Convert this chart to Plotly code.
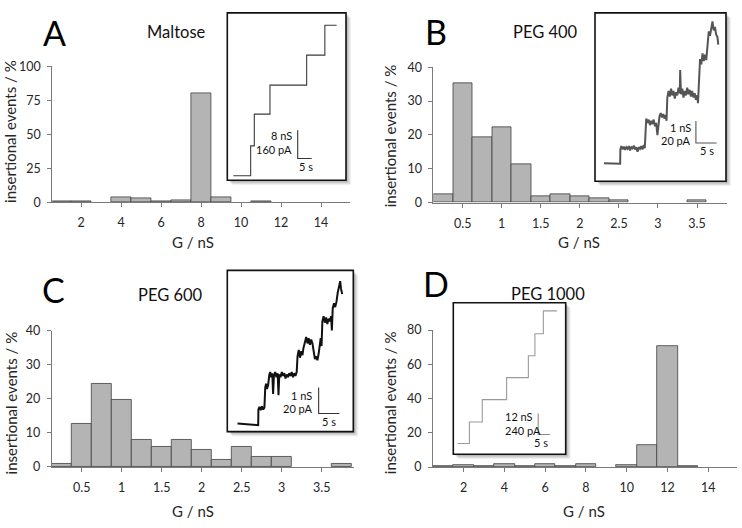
import plotly.graph_objects as go

W, H = 742, 528
FONT = "Lato, 'Open Sans', sans-serif"

# ---------------- histogram data ----------------
a_centers = [1, 2, 3, 4, 5, 6, 7, 8, 9, 10, 11, 12, 13, 14]
a_values = [0.6, 0.6, None, 3.8, 3.3, 0.8, 1.8, 80.3, 3.7, None, 0.4, None, None, None]

b_centers = [0.25, 0.5, 0.75, 1.0, 1.25, 1.5, 1.75, 2.0, 2.25, 2.5, 2.75, 3.0, 3.25, 3.5, 3.75]
b_values = [2.5, 35.3, 19.3, 22.4, 11.2, 1.9, 2.6, 1.9, 1.3, 0.6, None, None, None, 0.6, None]

c_centers = [0.25, 0.5, 0.75, 1.0, 1.25, 1.5, 1.75, 2.0, 2.25, 2.5, 2.75, 3.0, 3.25, 3.5, 3.75]
c_values = [1.0, 12.8, 24.5, 19.7, 8.0, 6.0, 8.0, 5.0, 2.0, 6.0, 3.0, 3.0, None, None, 1.0]

d_centers = [1, 2, 3, 4, 5, 6, 7, 8, 9, 10, 11, 12, 13, 14]
d_values = [0.4, 1.4, 0.4, 2.0, 0.4, 2.0, 0.4, 2.0, None, 1.4, 12.8, 70.8, 0.5, None]

ab_ticks = [2, 4, 6, 8, 10, 12, 14]
peg_ticks = [0.5, 1, 1.5, 2, 2.5, 3, 3.5]
peg_ticklabels = ["0.5", "1", "1.5", "2", "2.5", "3", "3.5"]
a_yticks = [0, 25, 50, 75, 100]
bc_yticks = [0, 10, 20, 30, 40]
d_yticks = [0, 20, 40, 60, 80]

# ---------------- inset traces (time s, current pA) ----------------
a_trace_t = [0, 6.2, 7.5, 13.1, 26.2, 32.7, 36.9]
a_trace_i = [0, 170, 350, 515, 685, 855, 855]

b_trace_t = [0, 3.9, 3.95, 4.2, 4.5, 4.8, 5.1, 5.4, 5.7, 6.0, 6.3, 6.6, 6.9, 7.2, 7.5, 7.8, 8.1, 8.4, 8.7, 9.0, 9.3, 9.6, 9.85,
             10.0, 10.2, 10.5, 10.8, 11.1, 11.4, 11.7, 12.0, 12.3, 12.6, 12.9, 13.1,
             13.4, 13.7, 14.0, 14.3, 14.6, 14.9, 15.1,
             15.3, 15.6, 15.9, 16.2, 16.5, 16.8, 17.1, 17.4, 17.7, 18.0, 18.3, 18.4, 18.6, 18.9, 19.2, 19.5, 19.8,
             20.1, 20.4, 20.7, 21.0, 21.3, 21.6, 21.9, 22.2, 22.5, 22.7,
             23.0, 23.2, 23.5, 23.8, 24.1, 24.4, 24.7,
             25.0, 25.3, 25.6, 25.9, 26.2, 26.5, 26.8, 27.1, 27.4, 27.6]
b_trace_i = [0.5, 0, 13, 16, 13, 15.5, 12.5, 15, 13.5, 16, 12, 15, 14, 16.5, 13, 15, 11, 15, 13.5, 16, 13, 17, 14,
             36, 41, 37, 40, 35, 39, 36, 40, 34, 37, 26, 33,
             43, 46, 42, 45, 41, 44, 39,
             60, 66, 61, 68, 62, 66, 59, 65, 62, 69, 64, 85, 63, 68, 60, 66, 62,
             69, 63, 67, 61, 66, 60, 64, 58, 62, 55,
             82, 95, 90, 100, 93, 99, 94,
             112, 120, 116, 124, 129, 121, 124, 117, 115, 108]

c_trace_t = [0, 5.0, 5.05, 5.3, 5.6, 5.9, 6.2, 6.5,
             6.7, 6.9, 7.1, 7.4,
             7.7, 7.9, 8.1, 8.4, 8.6, 8.8, 9.1, 9.4, 9.7, 9.9, 10.1, 10.4, 10.7, 11.0, 11.3, 11.6, 11.9, 12.2, 12.5,
             12.8, 13.1, 13.4, 13.7, 14.0, 14.3,
             14.5, 14.8, 15.1, 15.4, 15.7, 15.9,
             16.3, 16.6, 16.9, 17.2, 17.5, 17.8, 18.1,
             18.4, 18.7, 19.0, 19.3, 19.6,
             19.9, 20.1, 20.3,
             20.5, 20.8, 21.1, 21.4, 21.7, 22.0, 22.3, 22.6, 22.8,
             23.0, 23.3, 23.6, 23.9,
             24.2, 24.5, 24.8, 25.0, 25.3]
c_trace_i = [0.3, -1.0, 11, 13, 10.5, 13.5, 11, 12.5,
             28, 31, 27, 30,
             38, 40, 36, 39, 23, 37, 40, 36, 39, 22, 38, 36, 40, 37, 39, 35, 38, 36, 39,
             37, 40, 36, 39, 37, 40,
             52, 57, 51, 56, 53, 58,
             63, 67, 62, 66, 61, 65, 62,
             55, 50, 52, 49, 54,
             63, 66, 60,
             79, 83, 78, 82, 77, 81, 79, 83, 72,
             89, 93, 90, 94,
             101, 106, 110, 104, 100]

d_trace_t = [0, 5.0, 10.5, 20.9, 30.2, 33.0, 36.6, 42.4]
d_trace_i = [0, 245, 500, 750, 1000, 1250, 1510, 1510]

# scale bars: (corner time, corner current, current bar, time bar, labels)
a_bar = dict(t0=23.0, i0=98, di=160, dt=5, l1="8 nS", l2="160 pA", l3="5 s")
b_bar = dict(t0=22.2, i0=18.8, di=20, dt=5, l1="1 nS", l2="20 pA", l3="5 s")
c_bar = dict(t0=19.6, i0=8.0, di=20, dt=5, l1="1 nS", l2="20 pA", l3="5 s")
d_bar = dict(t0=34.4, i0=103, di=240, dt=5, l1="12 nS", l2="240 pA", l3="5 s")


def px(x):
    return x / W


def py(y):
    return 1 - y / H


fig = go.Figure()

BAR_FILL = "#b4b4b4"
BAR_LINE = "#404040"

for cx, vals, w, xa, ya in [
    (a_centers, a_values, 1.0, "x", "y"),
    (b_centers, b_values, 0.25, "x2", "y2"),
    (c_centers, c_values, 0.25, "x3", "y3"),
    (d_centers, d_values, 1.0, "x4", "y4"),
]:
    fig.add_trace(go.Bar(x=cx, y=vals, width=w, xaxis=xa, yaxis=ya,
                         marker=dict(color=BAR_FILL, line=dict(color=BAR_LINE, width=0.8)),
                         showlegend=False, hoverinfo="skip"))

# inset traces
fig.add_trace(go.Scatter(x=a_trace_t, y=a_trace_i, mode="lines", line=dict(color="#3a3a3a", width=1.1, shape="hv"),
                         xaxis="x5", yaxis="y5", showlegend=False, hoverinfo="skip"))
fig.add_trace(go.Scatter(x=b_trace_t, y=b_trace_i, mode="lines", line=dict(color="#555555", width=2.0),
                         xaxis="x6", yaxis="y6", showlegend=False, hoverinfo="skip"))
fig.add_trace(go.Scatter(x=c_trace_t, y=c_trace_i, mode="lines", line=dict(color="#111111", width=2.0),
                         xaxis="x7", yaxis="y7", showlegend=False, hoverinfo="skip"))
fig.add_trace(go.Scatter(x=d_trace_t, y=d_trace_i, mode="lines", line=dict(color="#9a9a9a", width=1.1, shape="hv"),
                         xaxis="x8", yaxis="y8", showlegend=False, hoverinfo="skip"))

# scale bars
for bar, xa, ya, col in [(a_bar, "x5", "y5", "#333333"), (b_bar, "x6", "y6", "#555555"),
                         (c_bar, "x7", "y7", "#333333"), (d_bar, "x8", "y8", "#8a8a8a")]:
    fig.add_trace(go.Scatter(x=[bar["t0"], bar["t0"], bar["t0"] + bar["dt"]],
                             y=[bar["i0"] + bar["di"], bar["i0"], bar["i0"]],
                             mode="lines", line=dict(color=col, width=1.1),
                             xaxis=xa, yaxis=ya, showlegend=False, hoverinfo="skip"))

AX_COL = "#7a7a7a"
TICK_FONT = dict(family=FONT, size=12.5, color="#262626")


def hist_x(domain, rng, tickvals, ticktext=None):
    d = dict(domain=domain, range=rng, tickvals=tickvals, showline=True, linecolor=AX_COL, linewidth=1,
             ticks="outside", ticklen=4, tickcolor=AX_COL, showgrid=False, zeroline=False,
             tickfont=TICK_FONT, ticklabelstandoff=5, fixedrange=True)
    if ticktext:
        d["ticktext"] = ticktext
    return d


def hist_y(domain, rng, tickvals):
    return dict(domain=domain, range=rng, tickvals=tickvals, showline=True, linecolor=AX_COL, linewidth=1,
                ticks="outside", ticklen=4, tickcolor=AX_COL, showgrid=False, zeroline=False,
                tickfont=TICK_FONT, ticklabelstandoff=4, fixedrange=True)


def inset_axes(L, R, T, B, ox, oy, sx, sy):
    xa = dict(domain=[px(L), px(R)], range=[(L - ox) / sx, (R - ox) / sx], visible=False, fixedrange=True)
    ya = dict(domain=[py(B), py(T)], range=[(oy - B) / sy, (oy - T) / sy], visible=False, fixedrange=True)
    return xa, ya


insets = {
    "A": (227.3, 346.0, 5.0, 177.3, 233.3, 172.7, 2.8, 29 / 160),
    "B": (595.0, 726.0, 5.0, 178.3, 604.0, 160.3, 4.14, 22.7 / 20),
    "C": (227.3, 353.3, 270.0, 436.0, 237.5, 428.0, 4.14, 26.7 / 20),
    "D": (453.3, 565.7, 303.3, 459.3, 457.7, 448.3, 2.34, 21.7 / 240),
}

x5, y5 = inset_axes(*insets["A"])
x6, y6 = inset_axes(*insets["B"])
x7, y7 = inset_axes(*insets["C"])
x8, y8 = inset_axes(*insets["D"])
x5["anchor"], y5["anchor"] = "y5", "x5"
x6["anchor"], y6["anchor"] = "y6", "x6"
x7["anchor"], y7["anchor"] = "y7", "x7"
x8["anchor"], y8["anchor"] = "y8", "x8"

shapes = []
for key, (L, R, T, B, *_rest) in insets.items():
    for off, alpha in [(5.0, 0.06), (3.8, 0.08), (2.6, 0.10), (1.4, 0.12)]:
        shapes.append(dict(type="rect", xref="paper", yref="paper", layer="below",
                           x0=px(L + off), x1=px(R + off), y0=py(B + off), y1=py(T + off),
                           fillcolor=f"rgba(0,0,0,{alpha})", line=dict(width=0)))
    shapes.append(dict(type="rect", xref="paper", yref="paper", layer="below",
                       x0=px(L), x1=px(R), y0=py(B), y1=py(T),
                       fillcolor="white", line=dict(color="#111111", width=1.6)))

annotations = []


def ann(text, x, y, size, xanchor="center", angle=0, color="#111111"):
    annotations.append(dict(text=text, x=px(x), y=py(y), xref="paper", yref="paper", showarrow=False,
                            xanchor=xanchor, yanchor="middle", textangle=angle,
                            font=dict(family=FONT, size=size, color=color)))


# panel letters
ann("A", 54, 25, 34, color="#000000")
ann("B", 436, 24, 34, color="#000000")
ann("C", 53.5, 290, 34, color="#000000")
ann("D", 436, 283.5, 34, color="#000000")
# panel titles
ann("Maltose", 176.7, 25, 16.5)
ann("PEG 400", 545.7, 25, 16.5)
ann("PEG 600", 170.3, 295, 16.5)
ann("PEG 1000", 547.7, 294, 16.5)
# axis titles
YT = "insertional events / %"
ann(YT, 10.5, 127, 15, angle=-90, color="#262626")
ann(YT, 390, 131, 15, angle=-90, color="#262626")
ann(YT, 11, 407, 15, angle=-90, color="#262626")
ann(YT, 390, 405.7, 15, angle=-90, color="#262626")
ann("G / nS", 193, 240.7, 15, color="#262626")
ann("G / nS", 578.5, 240.7, 15, color="#262626")
ann("G / nS", 193, 517.3, 15, color="#262626")
ann("G / nS", 583.5, 518, 15, color="#262626")
# scale bar labels
ann(a_bar["l1"], 294, 131, 11, xanchor="right")
ann(a_bar["l2"], 294, 145.7, 11, xanchor="right")
ann(a_bar["l3"], 305.7, 162.7, 11)
ann(b_bar["l1"], 693.3, 122.7, 11, xanchor="right")
ann(b_bar["l2"], 693.3, 136.7, 11, xanchor="right")
ann(b_bar["l3"], 706.7, 147, 11)
ann(c_bar["l1"], 313.5, 399, 11, xanchor="right")
ann(c_bar["l2"], 314.5, 412.3, 11, xanchor="right")
ann(c_bar["l3"], 329.3, 426, 11)
ann(d_bar["l1"], 503.3, 420.7, 11, xanchor="left")
ann(d_bar["l2"], 503.3, 435, 11, xanchor="left")
ann(d_bar["l3"], 540.8, 447.7, 11)

fig.update_layout(
    width=W, height=H, autosize=False,
    margin=dict(l=0, r=0, t=0, b=0),
    paper_bgcolor="white", plot_bgcolor="rgba(0,0,0,0)",
    barmode="overlay", bargap=0,
    showlegend=False,
    font=dict(family=FONT, color="#262626"),
    xaxis=dict(hist_x([px(52.3), px(350)], [0.565, 15.45], ab_ticks), anchor="y"),
    yaxis=dict(hist_y([py(200.0), py(60.0)], [0, 100], a_yticks), anchor="x"),
    xaxis2=dict(hist_x([px(433.4), px(727)], [0.125, 3.884], peg_ticks, peg_ticklabels), anchor="y2"),
    yaxis2=dict(hist_y([py(200.3), py(61.0)], [0, 40], bc_yticks), anchor="x2"),
    xaxis3=dict(hist_x([px(51.7), px(354)], [0.125, 3.904], peg_ticks, peg_ticklabels), anchor="y3"),
    yaxis3=dict(hist_y([py(472.3), py(332.3)], [0, 40], bc_yticks), anchor="x3"),
    xaxis4=dict(hist_x([px(433.1), px(737)], [0.5, 15.41], ab_ticks), anchor="y4"),
    yaxis4=dict(hist_y([py(472.5), py(331.5)], [0, 80], d_yticks), anchor="x4"),
    xaxis5=x5, yaxis5=y5, xaxis6=x6, yaxis6=y6, xaxis7=x7, yaxis7=y7, xaxis8=x8, yaxis8=y8,
    shapes=shapes,
    annotations=annotations,
)

fig.write_html(
    "out.html",
    config={"displayModeBar": False},
    post_script="document.documentElement.style.margin='0';document.body.style.margin='0';"
                "document.body.style.padding='0';document.body.style.overflow='hidden';",
)
